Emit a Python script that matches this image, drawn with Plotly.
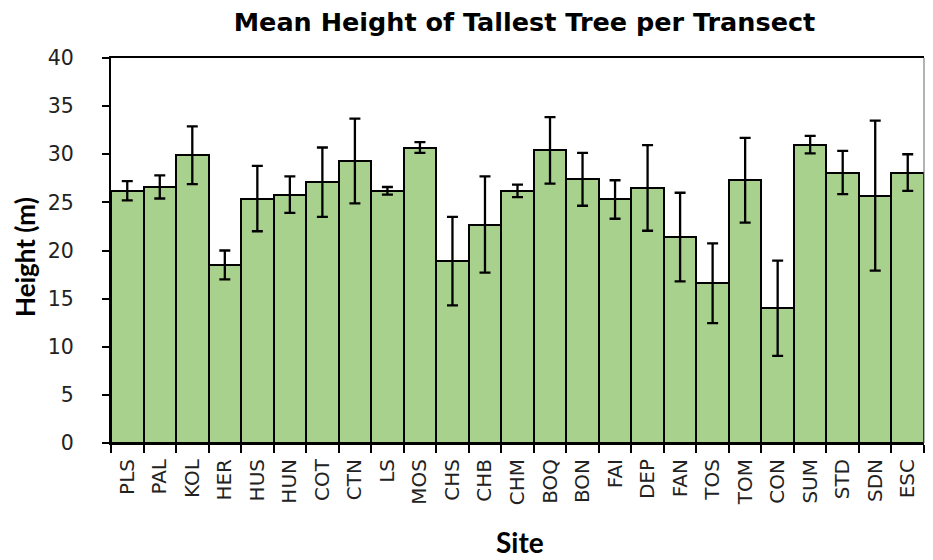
import plotly.graph_objects as go

sites = ["PLS", "PAL", "KOL", "HER", "HUS", "HUN", "COT", "CTN", "LS", "MOS",
         "CHS", "CHB", "CHM", "BOQ", "BON", "FAI", "DEP", "FAN", "TOS", "TOM",
         "CON", "SUM", "STD", "SDN", "ESC"]
mean_height = [26.2, 26.6, 29.9, 18.5, 25.4, 25.8, 27.1, 29.3, 26.2, 30.7,
               18.9, 22.7, 26.2, 30.4, 27.4, 25.3, 26.5, 21.4, 16.6, 27.3,
               14.0, 31.0, 28.1, 25.7, 28.1]
error = [1.0, 1.2, 3.0, 1.5, 3.4, 1.9, 3.6, 4.4, 0.4, 0.55,
         4.6, 5.0, 0.65, 3.45, 2.75, 2.0, 4.45, 4.6, 4.15, 4.4,
         4.95, 0.9, 2.25, 7.8, 1.9]
y_ticks = [0, 5, 10, 15, 20, 25, 30, 35, 40]

TICK_FONT = "DejaVu Sans"
TITLE_FONT = "DejaVu Sans"
AXIS_TITLE_FONT = "Lato"

W, H = 917, 552
L, T, PLOT_BOTTOM = 103, 50, 435
R = 1
PW = W - L - R
PH = PLOT_BOTTOM - T

fig = go.Figure(go.Bar(
    x=sites, y=mean_height,
    marker=dict(color="#A9D18E", line=dict(color="black", width=2)),
    error_y=dict(type="data", array=error, visible=True,
                 color="black", thickness=2.3, width=5.5),
))

fig.update_layout(
    width=W, height=H,
    margin=dict(l=L, r=R, t=T, b=H - PLOT_BOTTOM),
    paper_bgcolor="white", plot_bgcolor="white",
    bargap=0,
    showlegend=False,
    title=dict(text="<b>Mean Height of Tallest Tree per Transect</b>",
               x=516.5 / W, xanchor="center", y=1 - 14 / H, yanchor="middle",
               font=dict(family=TITLE_FONT, size=25.5, color="black")),
    shapes=[dict(type="line", xref="paper", yref="paper", x0=1, x1=1, y0=0, y1=1,
                 line=dict(color="#666", width=1))],
    annotations=[
        dict(text="<b>Height (m)</b>", xref="paper", yref="paper",
             x=(17 - L) / PW, y=1 - (249 - T) / PH,
             xanchor="center", yanchor="middle", textangle=-90, showarrow=False,
             font=dict(family=AXIS_TITLE_FONT, size=26, color="black")),
        dict(text="<b>Site</b>", xref="paper", yref="paper",
             x=(512 - L) / PW, y=-(534 - PLOT_BOTTOM) / PH,
             xanchor="center", yanchor="middle", showarrow=False,
             font=dict(family=AXIS_TITLE_FONT, size=28, color="black")),
    ],
)

fig.update_xaxes(
    type="category",
    tickangle=-90,
    tickfont=dict(family=TICK_FONT, size=20, color="#222"),
    ticks="outside", ticklen=8, tickwidth=2, tickcolor="black",
    tickson="boundaries",
    ticklabelstandoff=6,
    showline=True, linecolor="black", linewidth=2, mirror=True,
    showgrid=False,
)

fig.update_yaxes(
    range=[0, 40],
    tickvals=y_ticks,
    tickfont=dict(family=TICK_FONT, size=20.5, color="#222"),
    ticks="outside", ticklen=7, tickwidth=2, tickcolor="black",
    ticklabelstandoff=24,
    showline=True, linecolor="black", linewidth=2,
    showgrid=False, zeroline=False,
)

fig.write_html("out.html")
